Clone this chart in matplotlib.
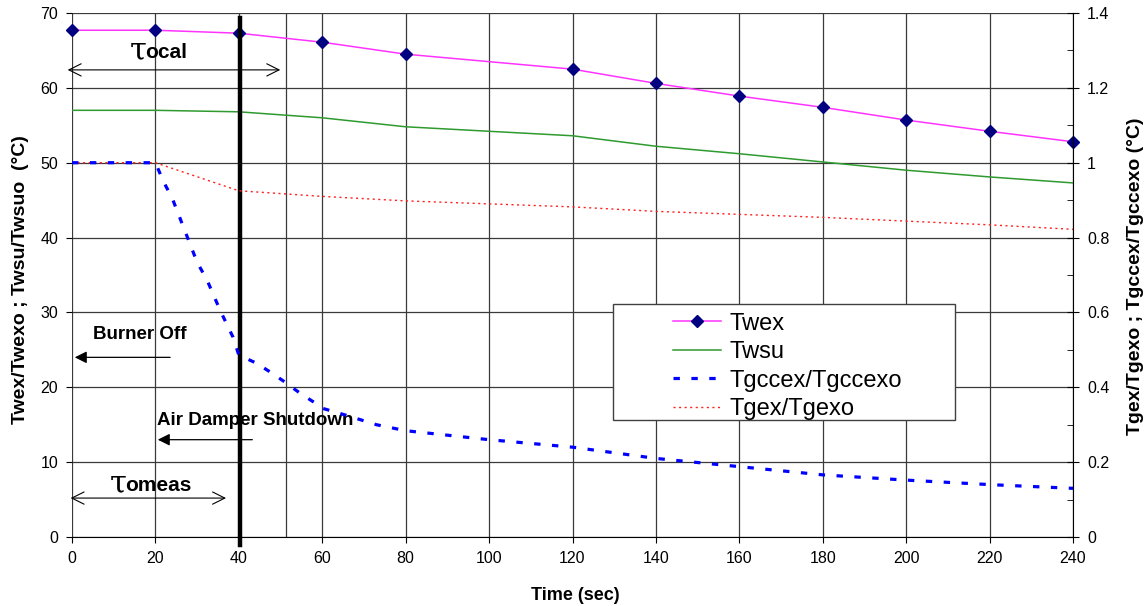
import numpy as np
import matplotlib
matplotlib.use('Agg')
import matplotlib.pyplot as plt
from matplotlib.ticker import MultipleLocator, FuncFormatter
from matplotlib.lines import Line2D
from matplotlib.patches import Rectangle

plt.rcParams['font.family'] = ['Liberation Sans', 'DejaVu Sans']

# ---------------- data ----------------
t_w = [0, 20, 40, 60, 80, 120, 140, 160, 180, 200, 220, 240]
twex = [67.7, 67.7, 67.3, 66.1, 64.5, 62.5, 60.6, 58.9, 57.4, 55.7, 54.2, 52.8]
twsu = [57.0, 57.0, 56.8, 56.0, 54.8, 53.6, 52.2, 51.2, 50.1, 49.0, 48.1, 47.3]

# right axis series (ratios)
t_gex = [0, 20, 40, 60, 80, 120, 140, 160, 180, 200, 220, 240]
tgex = [1.0, 1.0, 0.925, 0.91, 0.898, 0.882, 0.870, 0.862, 0.854, 0.844, 0.834, 0.822]

t_gcc = [0, 20, 22, 24, 30, 32.4, 35.5, 38.6, 40, 44.3, 47.9, 51.3, 54.7, 58.3, 60,
         65.5, 73, 80, 100, 120, 140, 160, 180, 200, 220, 240]
tgccex = [1.0, 1.0, 0.948, 0.906, 0.734, 0.686, 0.606, 0.534, 0.486, 0.464, 0.438,
          0.412, 0.384, 0.358, 0.344, 0.326, 0.300, 0.284, 0.260, 0.240, 0.210,
          0.188, 0.166, 0.152, 0.140, 0.130]

# ---------------- figure ----------------
fig = plt.figure(figsize=(11.44, 6.06), dpi=100)
ax = fig.add_axes([72/1144, 1-537/606, (1073-72)/1144, (537-13)/606])
ax2 = ax.twinx()

ax.set_xlim(0, 240)
ax.set_ylim(0, 70)
ax2.set_ylim(0, 1.4)

gridc = '#3a3a3a'
ax.xaxis.set_major_locator(MultipleLocator(20))
ax.yaxis.set_major_locator(MultipleLocator(10))
ax.grid(True, color=gridc, lw=0.9)
ax.set_axisbelow(True)
ax.axvline(51.3, color=gridc, lw=0.9, zorder=0.5)

for s in ['left', 'top']:
    ax.spines[s].set_visible(False)
    ax2.spines[s].set_visible(False)
ax.spines['bottom'].set_color('black')
ax2.spines['bottom'].set_visible(False)
ax2.spines['right'].set_color('black')
ax.spines['right'].set_visible(False)

ax.tick_params(axis='both', labelsize=11.5, direction='out', length=4, color='black', pad=6)
ax2.yaxis.set_major_locator(MultipleLocator(0.2))
ax2.yaxis.set_minor_locator(MultipleLocator(0.1))
ax2.yaxis.set_major_formatter(FuncFormatter(lambda v, p: '%g' % round(v, 2)))
ax2.tick_params(axis='y', which='major', direction='inout', length=8, labelsize=11.5, pad=6)
ax2.tick_params(axis='y', which='minor', direction='in', length=4)

# ---------------- series ----------------
ax.plot(t_w, twex, color='#ff33ff', lw=1.1, marker='D', ms=6,
        mfc='#000080', mec='#000080', zorder=5, clip_on=False)
ax.plot(t_w, twsu, color='#2f9a2f', lw=1.1, zorder=5)
ax2.plot(t_gex, tgex, color='#ff2020', lw=1.0, dashes=(1.5, 2.5), zorder=5)
ax2.plot(t_gcc, tgccex, color='#0000ff', lw=2.3, dashes=(2.0, 3.6), zorder=5)

# thick marker line at burner off
ax.plot([40.3, 40.3], [69.3, -1.1], color='black', lw=3.2, clip_on=False, zorder=6)

# ---------------- annotations ----------------
arr_open = dict(arrowstyle='<->', color='black', lw=0.8, mutation_scale=22)
ax.annotate('', xy=(-1.7, 62.4), xytext=(50.6, 62.4), arrowprops=arr_open,
            annotation_clip=False)
ax.text(13.9, 64.9, 'τ', fontsize=22, family='DejaVu Serif', ha='left', va='center')
ax.text(17.6, 64.7, 'ocal', fontsize=15, fontweight='bold', ha='left', va='center')
ax.annotate('', xy=(-1.0, 5.2), xytext=(37.6, 5.2), arrowprops=arr_open,
            annotation_clip=False)
ax.text(9.1, 7.1, 'τ', fontsize=22, family='DejaVu Serif', ha='left', va='center')
ax.text(12.8, 6.9, 'omeas', fontsize=15, fontweight='bold', ha='left', va='center')

arr_solid = dict(arrowstyle='-|>', color='black', lw=0.9, mutation_scale=18)
ax.annotate('', xy=(0, 24.0), xytext=(24.2, 24.0), arrowprops=arr_solid)
ax.text(5.0, 27.0, 'Burner Off', fontsize=13.5, fontweight='bold',
        ha='left', va='center')
ax.annotate('', xy=(19.9, 13.0), xytext=(43.9, 13.0), arrowprops=arr_solid)
ax.text(20.3, 15.6, 'Air Damper Shutdown', fontsize=13.5, fontweight='bold',
        ha='left', va='center')

# ---------------- labels ----------------
ax.set_xlabel('Time (sec)', fontsize=13, fontweight='bold')
ax.xaxis.set_label_coords(503/1001, -0.095)
fig.text(21/1144, 1-280/606, 'Twex/Twexo ; Twsu/Twsuo  (°C)', rotation=90,
         fontsize=14, fontweight='bold', ha='center', va='center')
fig.text(1135/1144, 1-276/606, 'Tgex/Tgexo ; Tgccex/Tgccexo (°C)', rotation=90,
         fontsize=14, fontweight='bold', ha='center', va='center')

# ---------------- legend ----------------
box = Rectangle((613/1144, 1-420/606), (955-613)/1144, (420-304)/606,
                transform=fig.transFigure, facecolor='white', edgecolor='#404040',
                lw=1.0, zorder=10)
fig.patches.append(box)
handles = [
    Line2D([], [], color='#ff33ff', lw=1.1, marker='D', ms=6, mfc='#000080', mec='#000080'),
    Line2D([], [], color='#2f9a2f', lw=1.1),
    Line2D([], [], color='#0000ff', lw=2.3, dashes=(2.0, 3.6)),
    Line2D([], [], color='#ff2020', lw=1.0, dashes=(1.5, 2.5)),
]
names = ['Twex', 'Twsu', 'Tgccex/Tgccexo', 'Tgex/Tgexo']
leg = fig.legend(handles, names, loc='upper left', bbox_to_anchor=(656/1144, 1-296/606),
                 frameon=False, fontsize=17, handlelength=2.05, handletextpad=0.35,
                 labelspacing=0.28, borderpad=0.2)
leg.set_zorder(11)

fig.savefig('out.png', dpi=100)
